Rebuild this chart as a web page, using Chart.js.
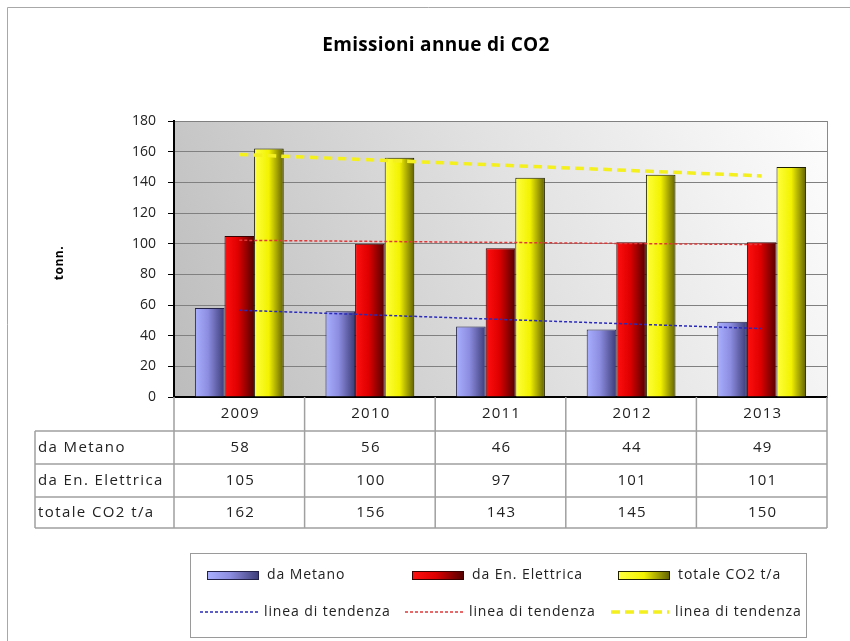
<!DOCTYPE html>
<html>
<head>
<meta charset="utf-8">
<script src="https://cdn.jsdelivr.net/npm/chart.js@4/dist/chart.umd.min.js"></script>
<style>
  html, body { margin:0; padding:0; background:#fff; }
  #wrap { width:850px; height:641px; position:relative; }
</style>
</head>
<body>
<div id="wrap"><canvas id="co2Chart"></canvas></div>
<script>
// anni e serie delle emissioni (t/a)
const years        = ['2009', '2010', '2011', '2012', '2013'];
const daMetano     = [58, 56, 46, 44, 49];
const daElettrica  = [105, 100, 97, 101, 101];
const totaleCO2    = [162, 156, 143, 145, 150];
// linee di tendenza: solo estremi, il tratto in mezzo e' unito con spanGaps
const trendMetano    = [56.6, null, null, null, 44.6];
const trendElettrica = [102.2, null, null, null, 99.4];
const trendTotale    = [158.2, null, null, null, 144.2];
const rowLabels   = ['da Metano', 'da En. Elettrica', 'totale CO2 t/a'];
const seriesNames = ['da Metano', 'da En. Elettrica', 'totale CO2 t/a'];
const trendName   = 'linea di tendenza';

const FONT    = '"Open Sans", sans-serif';
const CAT_PCT = 0.68;

const STOPS = {
  blue:   [[0, '#aab0ff'], [0.45, '#8c8ce0'], [1, '#3c3c78']],
  red:    [[0, '#ff1010'], [0.45, '#e00000'], [1, '#520000']],
  yellow: [[0, '#ffff40'], [0.5, '#f2f200'], [1, '#606000']],
};

function makeGrad(c, x, w, stops) {
  const g = c.createLinearGradient(x, 0, x + w, 0);
  stops.forEach(([o, col]) => g.addColorStop(o, col));
  return g;
}

// gradiente orizzontale per ogni singola barra
function barFill(stops) {
  return ctx => {
    const chart = ctx.chart, area = chart.chartArea;
    if (ctx.type !== 'data' || !area) return stops[1][1];
    const catW = (area.right - area.left) / years.length;
    const w    = catW * CAT_PCT / 3;
    const left = chart.scales.x.getPixelForValue(ctx.dataIndex) - 1.5 * w + ctx.datasetIndex * w;
    return makeGrad(chart.ctx, left, w, stops);
  };
}

const tablePlugin = {
  id: 'tablePlugin',
  beforeDraw(chart) {
    const c = chart.ctx, a = chart.chartArea;
    c.save();
    c.fillStyle = '#fff';
    c.fillRect(0, 0, chart.width, chart.height);
    // cornice esterna
    c.strokeStyle = '#a8a8a8';
    c.lineWidth = 1;
    c.beginPath();
    c.moveTo(7.5, chart.height); c.lineTo(7.5, 7.5); c.lineTo(chart.width, 7.5);
    c.stroke();
    // sfondo area del grafico
    const bg = c.createLinearGradient(a.left, a.bottom, a.right, a.top);
    bg.addColorStop(0, '#bcbcbc');
    bg.addColorStop(0.55, '#e2e2e2');
    bg.addColorStop(1, '#fdfdfd');
    c.fillStyle = bg;
    c.fillRect(a.left, a.top, a.right - a.left, a.bottom - a.top);
    c.restore();
  },
  afterDraw(chart) {
    const c = chart.ctx, a = chart.chartArea, xs = chart.scales.x;
    const catW = (a.right - a.left) / years.length;
    c.save();

    // bordo destro area grafico
    c.strokeStyle = '#8a8a8a';
    c.lineWidth = 1;
    c.beginPath();
    c.moveTo(a.right + 0.5, a.top); c.lineTo(a.right + 0.5, a.bottom);
    c.stroke();

    // titolo e titolo asse
    c.fillStyle = '#000';
    c.font = 'bold 19px ' + FONT;
    c.letterSpacing = '0.3px';
    c.textAlign = 'center';
    c.textBaseline = 'middle';
    c.fillText('Emissioni annue di CO2', 436, 46);
    c.save();
    c.translate(60, 263);
    c.rotate(-Math.PI / 2);
    c.font = 'bold 12px ' + FONT;
    c.letterSpacing = '0.5px';
    c.fillText('tonn.', 0, 0);
    c.restore();

    // tabella dati
    const rowsY = [a.bottom, 431, 464, 497, 528];
    const tabL = 35;
    c.strokeStyle = '#a0a0a0';
    c.lineWidth = 1.5;
    c.beginPath();
    for (let i = 1; i < rowsY.length; i++) {
      c.moveTo(tabL, rowsY[i]); c.lineTo(a.right, rowsY[i]);
    }
    c.moveTo(tabL, rowsY[1]); c.lineTo(tabL, rowsY[4]);
    for (let i = 0; i <= years.length; i++) {
      const x = a.left + i * catW;
      c.moveTo(x, a.bottom); c.lineTo(x, rowsY[4]);
    }
    c.stroke();

    c.fillStyle = '#222';
    c.font = '15px ' + FONT;
    c.letterSpacing = '1.2px';
    c.textBaseline = 'middle';
    c.textAlign = 'center';
    const rows = [daMetano, daElettrica, totaleCO2];
    years.forEach((y, i) => {
      const cx = xs.getPixelForValue(i) + 1;
      c.fillText(y, cx, (rowsY[0] + rowsY[1]) / 2);
      rows.forEach((r, k) => c.fillText(String(r[i]), cx, (rowsY[k + 1] + rowsY[k + 2]) / 2));
    });
    c.textAlign = 'left';
    c.letterSpacing = '1.4px';
    rowLabels.forEach((l, k) => c.fillText(l, tabL + 3, (rowsY[k + 1] + rowsY[k + 2]) / 2));

    // legenda
    c.strokeStyle = '#9a9a9a';
    c.lineWidth = 1;
    c.strokeRect(190.5, 553.5, 616, 84);
    const colX  = [207, 412, 618];
    const sw    = 52;
    const stops = [STOPS.blue, STOPS.red, STOPS.yellow];
    const edges = ['#22224a', '#3a0000', '#202000'];
    const trendDs = chart.data.datasets.slice(3);
    c.font = '14px ' + FONT;
    c.letterSpacing = '0.9px';
    c.textBaseline = 'middle';
    c.textAlign = 'left';
    colX.forEach((x, i) => {
      c.fillStyle = makeGrad(c, x, sw, stops[i]);
      c.fillRect(x, 571, sw, 9);
      c.strokeStyle = edges[i];
      c.lineWidth = 1;
      c.strokeRect(x + 0.5, 571.5, sw - 1, 8);
      c.fillStyle = '#222';
      c.fillText(seriesNames[i], x + sw + 8, 575);

      const ds = trendDs[i];
      c.strokeStyle = ds.borderColor;
      c.lineWidth = ds.borderWidth;
      c.setLineDash(ds.borderDash);
      c.beginPath();
      c.moveTo(x - 7, 612); c.lineTo(x + sw - 1, 612);
      c.stroke();
      c.setLineDash([]);
      c.fillText(trendName, x + sw + 5, 612);
    });
    c.restore();
  }
};

const barBase = { categoryPercentage: CAT_PCT, barPercentage: 1, borderWidth: 1, order: 2 };
const lineBase = { type: 'line', pointRadius: 0, spanGaps: true, fill: false, order: 0 };

new Chart(document.getElementById('co2Chart'), {
  type: 'bar',
  data: {
    labels: years,
    datasets: [
      { ...barBase, label: seriesNames[0], data: daMetano,    backgroundColor: barFill(STOPS.blue),   borderColor: '#22224a' },
      { ...barBase, label: seriesNames[1], data: daElettrica, backgroundColor: barFill(STOPS.red),    borderColor: '#3a0000' },
      { ...barBase, label: seriesNames[2], data: totaleCO2,   backgroundColor: barFill(STOPS.yellow), borderColor: '#1e1e00' },
      { ...lineBase, label: trendName, data: trendMetano,    borderColor: '#2a2ab8', borderWidth: 1.5, borderDash: [3, 2] },
      { ...lineBase, label: trendName, data: trendElettrica, borderColor: '#e03838', borderWidth: 1.5, borderDash: [3, 2] },
      { ...lineBase, label: trendName, data: trendTotale,    borderColor: '#f4f020', borderWidth: 3.5, borderDash: [9, 5] },
    ],
  },
  options: {
    responsive: true,
    maintainAspectRatio: false,
    animation: false,
    layout: { padding: { left: 0, top: 121, right: 23, bottom: 244 } },
    plugins: { legend: { display: false }, title: { display: false }, tooltip: { enabled: false } },
    scales: {
      x: {
        grid: { display: false },
        ticks: { display: false },
        border: { color: '#000', width: 2 },
        afterFit: s => { s.height = 0; },
      },
      y: {
        min: 0, max: 180,
        ticks: { stepSize: 20, color: '#222', padding: 12, font: { family: FONT, size: 14 } },
        grid: { color: '#808080', lineWidth: 1, tickLength: 6, tickColor: '#000' },
        border: { color: '#000', width: 2 },
        afterFit: s => { s.width = 174; },
      },
    },
  },
  plugins: [tablePlugin],
});
</script>
</body>
</html>
